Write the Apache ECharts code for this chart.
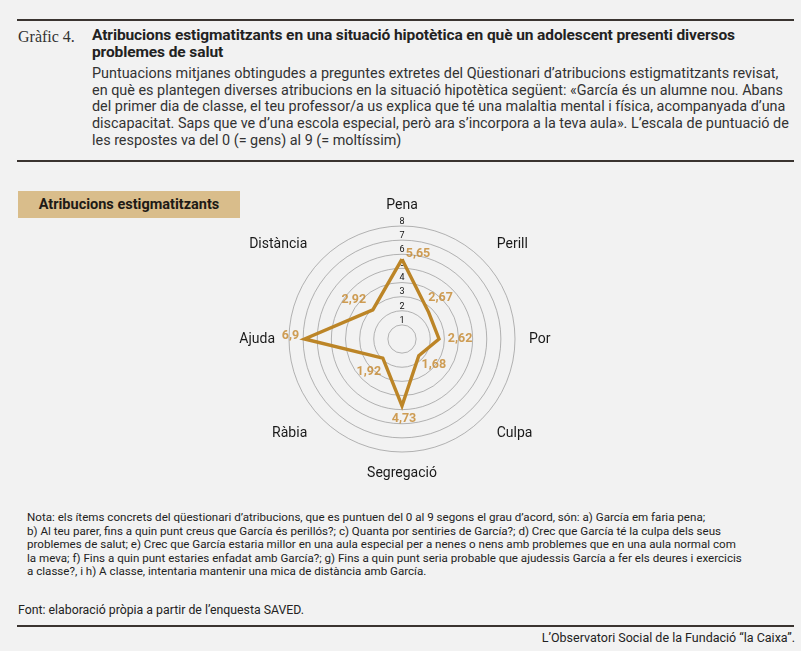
<!DOCTYPE html>
<html>
<head>
<meta charset="utf-8">
<script src="https://cdn.jsdelivr.net/npm/echarts@6/dist/echarts.min.js"></script>
<style>
  html, body { margin: 0; padding: 0; }
  body { width: 801px; height: 651px; background: #f2f2f2; position: relative; overflow: hidden;
         font-family: Roboto, "Noto Sans", sans-serif; color: #222; }
  .rule { position: absolute; left: 17px; width: 777px; height: 2px; background: #3a3430; }
  .abs { position: absolute; white-space: nowrap; }
  #num { left: 18px; top: 28px; font-family: "Liberation Serif", "DejaVu Serif", serif; font-size: 16px; color: #333; }
  #title { left: 92px; top: 27px; font-size: 15.5px; font-weight: bold; line-height: 16.5px; letter-spacing: -0.1px; color: #222; }
  #sub { left: 92px; top: 66px; font-size: 14.4px; line-height: 16.7px; color: #333; }
  #box { left: 18px; top: 191px; width: 222px; height: 27px; background: #d9bd8b; font-size: 14.5px; font-weight: bold;
         line-height: 27px; text-align: center; color: #1e1a16; }
  #notes { left: 27px; top: 511px; font-size: 11.6px; line-height: 13.6px; color: #222; }
  #src { left: 18px; top: 603px; font-size: 12.3px; color: #222; }
  #foot { right: 6px; top: 630px; font-size: 12.5px; color: #222; }
  #chart { position: absolute; left: 0; top: 165px; width: 801px; height: 335px; }
</style>
</head>
<body>
<div class="rule" style="top:19px"></div>
<div class="abs" id="num">Gràfic 4.</div>
<div class="abs" id="title">Atribucions estigmatitzants en una situació hipotètica en què un adolescent presenti diversos<br>problemes de salut</div>
<div class="abs" id="sub">Puntuacions mitjanes obtingudes a preguntes extretes del Qüestionari d’atribucions estigmatitzants revisat,<br>en què es plantegen diverses atribucions en la situació hipotètica següent: «García és un alumne nou. Abans<br>del primer dia de classe, el teu professor/a us explica que té una malaltia mental i física, acompanyada d’una<br>discapacitat. Saps que ve d’una escola especial, però ara s’incorpora a la teva aula». L’escala de puntuació de<br>les respostes va del 0 (= gens) al 9 (= moltíssim)</div>
<div class="rule" style="top:160px"></div>
<div class="abs" id="box">Atribucions estigmatitzants</div>
<div id="chart"></div>
<div class="abs" id="notes">Nota: els ítems concrets del qüestionari d’atribucions, que es puntuen del 0 al 9 segons el grau d’acord, són: a) García em faria pena;<br>b) Al teu parer, fins a quin punt creus que García és perillós?; c) Quanta por sentiries de García?; d) Crec que García té la culpa dels seus<br>problemes de salut; e) Crec que García estaria millor en una aula especial per a nenes o nens amb problemes que en una aula normal com<br>la meva; f) Fins a quin punt estaries enfadat amb García?; g) Fins a quin punt seria probable que ajudessis García a fer els deures i exercicis<br>a classe?, i h) A classe, intentaria mantenir una mica de distància amb García.</div>
<div class="abs" id="src">Font: elaboració pròpia a partir de l’enquesta SAVED.</div>
<div class="rule" style="top:625px"></div>
<div class="abs" id="foot">L’Observatori Social de la Fundació “la Caixa”.</div>

<script>
// axes, clockwise from the top
var categories = ['Pena', 'Perill', 'Por', 'Culpa', 'Segregació', 'Ràbia', 'Ajuda', 'Distància'];
var values = [5.65, 2.67, 2.62, 1.68, 4.73, 1.92, 6.9, 2.92];
var scaleMax = 8;

var chart = echarts.init(document.getElementById('chart'));

var center = [402, 174];
var radius = 113;
var gold = '#bc8527';
var labelGold = '#c4862a';

// radar lays its indicators out counter-clockwise, so walk the list backwards after the first one
var order = [0];
for (var k = categories.length - 1; k > 0; k--) order.push(k);

var indicator = order.map(function (i, n) {
  var ind = { name: categories[i], min: 0, max: scaleMax };
  if (n === 0) {
    ind.axisLabel = { show: true };
  }
  // diagonal names sit a little further out
  if (i % 2 === 1) {
    ind.nameGap = 21;
  }
  return ind;
});

// where each value label sits relative to its vertex
var labelOffsets = [[16, -5], [12, -14], [21, 0], [15, 9], [2, 13], [-14, 14], [-14, -3], [-19, -10]];

function fmt(v) {
  return String(v).replace('.', ',');
}

var option = {
  animation: false,
  radar: {
    center: center,
    radius: radius,
    startAngle: 90,
    shape: 'circle',
    splitNumber: scaleMax,
    indicator: indicator,
    nameGap: 14,
    axisName: { color: '#1a1a1a', fontSize: 14, fontFamily: 'Roboto' },
    axisLine: { show: false },
    axisTick: { show: false },
    splitArea: { show: false },
    splitLine: { lineStyle: { color: '#959595', width: 0.7 } },
    axisLabel: {
      show: false,
      showMinLabel: false,
      margin: 0,
      align: 'center',
      verticalAlign: 'bottom',
      color: '#111',
      fontSize: 9,
      fontFamily: 'Roboto'
    }
  },
  polar: { center: center, radius: radius },
  angleAxis: {
    type: 'value', min: 0, max: categories.length, startAngle: 90, clockwise: true,
    show: false, axisLine: { show: false }, axisLabel: { show: false },
    axisTick: { show: false }, splitLine: { show: false }
  },
  radiusAxis: {
    type: 'value', min: 0, max: scaleMax, show: false,
    axisLine: { show: false }, axisLabel: { show: false },
    axisTick: { show: false }, splitLine: { show: false }
  },
  series: [
    {
      type: 'radar',
      symbol: 'none',
      lineStyle: { color: gold, width: 3.4, join: 'miter' },
      data: [{ value: order.map(function (i) { return values[i]; }) }]
    },
    {
      type: 'scatter',
      coordinateSystem: 'polar',
      symbolSize: 1,
      itemStyle: { color: 'rgba(0,0,0,0)' },
      label: {
        show: true,
        position: 'inside',
        color: labelGold,
        fontWeight: 'bold',
        fontSize: 12.5,
        fontFamily: 'Roboto',
        formatter: function (p) { return fmt(p.value[0]); }
      },
      data: values.map(function (v, i) {
        return { value: [v, i], label: { offset: labelOffsets[i] } };
      })
    }
  ]
};

chart.setOption(option);
</script>
</body>
</html>
